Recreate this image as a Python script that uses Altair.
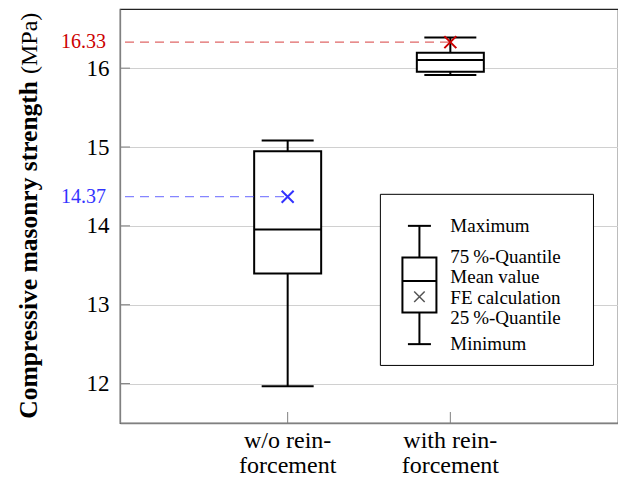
import altair as alt
import pandas as pd

# ---------------- data ----------------
categories = ["w/o rein-\nforcement", "with rein-\nforcement"]
maximum = [15.083, 16.389]
quartile_75 = [14.945, 16.195]
median = [13.953, 16.102]
quartile_25 = [13.397, 15.953]
minimum = [11.966, 15.912]
fe_calculation = [14.37, 16.33]

y_ticks = [12, 13, 14, 15, 16]

legend_labels = ["Maximum", "75\u2009%-Quantile", "Mean value",
                 "FE calculation", "25\u2009%-Quantile", "Minimum"]
legend_label_y = [14.0, 13.6, 13.35, 13.08, 12.83, 12.5]
legend_sample = {"maximum": 14.0, "q3": 13.6, "median": 13.3,
                 "q1": 12.9, "minimum": 12.5, "fe": 13.1}

y_title_bold = "Compressive masonry strength"
y_title_unit = "(MPa)"

# ---------------- layout / style ----------------
W, H = 498, 414
X_DOMAIN = [0, 3]
Y_DOMAIN = [11.5, 16.75]
LEGEND_POS = 1.81
LEGEND_TEXT_POS = 2.0
LEGEND_FRAME = {"x": 1.57, "x2": 2.88, "y": 12.23, "y2": 14.40}

SERIF = "Liberation Serif"
FRAME = "#222222"
AXIS_GREY = "#808080"
GRID_GREY = "#d0d0d0"
BLUE = "#3333ff"
RED = "#cc0000"
XPATH = "M-1,-1L1,1M1,-1L-1,1"

xscale = alt.Scale(domain=X_DOMAIN, nice=False, zero=False)
yscale = alt.Scale(domain=Y_DOMAIN, nice=False, zero=False)

x_axis = alt.Axis(values=[1, 2], labels=False, ticks=False, grid=False,
                  domainColor=AXIS_GREY, domainWidth=1.3, title=None)
y_axis = alt.Axis(values=y_ticks, labelFont=SERIF, labelFontSize=23, labelColor="black",
                  labelPadding=11, ticks=False, grid=True, gridColor=GRID_GREY,
                  gridWidth=1, domainColor=AXIS_GREY, domainWidth=1.3, title=None)


def X(field="pos"):
    return alt.X(f"{field}:Q", scale=xscale, axis=x_axis)


def Y(field):
    return alt.Y(f"{field}:Q", scale=yscale, axis=y_axis)


df = pd.DataFrame({
    "category": categories,
    "pos": [i + 1 for i in range(len(categories))],
    "maximum": maximum,
    "q3": quartile_75,
    "median": median,
    "q1": quartile_25,
    "minimum": minimum,
    "fe": fe_calculation,
})
df["axis_start"] = X_DOMAIN[0]

color_enc = alt.Color("category:N", scale=alt.Scale(domain=categories, range=[BLUE, RED]),
                      legend=None)

base = alt.Chart(df)

y_inner_ticks = alt.Chart(pd.DataFrame({"tick": y_ticks})).mark_rule(
    color=AXIS_GREY, strokeWidth=1).encode(
    y=Y("tick"), x=alt.value(0), x2=alt.value(10))

x_inner_ticks = base.mark_rule(color=AXIS_GREY, strokeWidth=1).encode(
    x=X(), y=alt.value(H), y2=alt.value(H - 11))

x_labels = base.mark_text(baseline="top", align="center", font=SERIF, fontSize=24,
                          lineBreak="\n", lineHeight=25, color="black").encode(
    x=X(), y=alt.value(H + 6), text="category:N")

whisk_hi = base.mark_rule(color="black", strokeWidth=2).encode(
    x=X(), y=Y("q3"), y2=alt.Y2("maximum"))
whisk_lo = base.mark_rule(color="black", strokeWidth=2).encode(
    x=X(), y=Y("minimum"), y2=alt.Y2("q1"))

boxes = base.mark_bar(fill="white", stroke="black", strokeWidth=2, size=67,
                      orient="vertical").encode(
    x=X(), y=Y("q1"), y2=alt.Y2("q3"))

medians = base.mark_tick(color="black", thickness=2, size=67, orient="horizontal",
                         opacity=1).encode(x=X(), y=Y("median"))
cap_hi = base.mark_tick(color="black", thickness=2, size=52, orient="horizontal",
                        opacity=1).encode(x=X(), y=Y("maximum"))
cap_lo = base.mark_tick(color="black", thickness=2, size=52, orient="horizontal",
                        opacity=1).encode(x=X(), y=Y("minimum"))

dashes = base.mark_rule(strokeDash=[9, 6], strokeWidth=1.3, opacity=0.6).encode(
    x=X("axis_start"), x2=alt.X2("pos"), y=Y("fe"), color=color_enc)

markers = base.mark_point(shape=XPATH, filled=False, size=144, strokeWidth=2,
                          opacity=1).encode(x=X(), y=Y("fe"), color=color_enc)

fe_labels = base.mark_text(align="right", baseline="middle", font=SERIF, fontSize=20,
                           dx=-19).encode(
    x=X("axis_start"), y=Y("fe"), text=alt.Text("fe:Q", format=".2f"), color=color_enc)

# ---------------- legend ----------------
frame_df = pd.DataFrame([LEGEND_FRAME])
legend_frame = alt.Chart(frame_df).mark_rect(fill="white", stroke="black",
                                             strokeWidth=1).encode(
    x=X("x"), x2=alt.X2("x2"), y=Y("y"), y2=alt.Y2("y2"))

ls = pd.DataFrame([dict(legend_sample, pos=LEGEND_POS)])
lbase = alt.Chart(ls)
l_wh = lbase.mark_rule(color="black", strokeWidth=2).encode(
    x=X(), y=Y("q3"), y2=alt.Y2("maximum"))
l_wl = lbase.mark_rule(color="black", strokeWidth=2).encode(
    x=X(), y=Y("minimum"), y2=alt.Y2("q1"))
l_box = lbase.mark_bar(fill="white", stroke="black", strokeWidth=2, size=34,
                       orient="vertical").encode(x=X(), y=Y("q1"), y2=alt.Y2("q3"))
l_med = lbase.mark_tick(color="black", thickness=2, size=34, orient="horizontal",
                        opacity=1).encode(x=X(), y=Y("median"))
l_ch = lbase.mark_tick(color="black", thickness=2, size=23, orient="horizontal",
                       opacity=1).encode(x=X(), y=Y("maximum"))
l_cl = lbase.mark_tick(color="black", thickness=2, size=23, orient="horizontal",
                       opacity=1).encode(x=X(), y=Y("minimum"))
l_x = lbase.mark_point(shape=XPATH, filled=False, size=110, strokeWidth=1.5,
                       color="#555555", opacity=1).encode(x=X(), y=Y("fe"))

lt = pd.DataFrame({"label": legend_labels, "ly": legend_label_y,
                   "lx": [LEGEND_TEXT_POS] * len(legend_labels)})
l_text = alt.Chart(lt).mark_text(align="left", baseline="middle", font=SERIF,
                                 fontSize=19, color="black").encode(
    x=X("lx"), y=Y("ly"), text="label:N")

# ---------------- y title (bold + regular) ----------------
t_bold = alt.Chart(pd.DataFrame({"t": [y_title_bold]})).mark_text(
    angle=270, align="right", baseline="alphabetic", font=SERIF, fontSize=25.5,
    fontWeight="bold", color="black").encode(
    x=alt.value(-83), y=alt.value(72), text="t:N")
t_unit = alt.Chart(pd.DataFrame({"t": [y_title_unit]})).mark_text(
    angle=270, align="left", baseline="alphabetic", font=SERIF, fontSize=24,
    color="black").encode(
    x=alt.value(-83), y=alt.value(65), text="t:N")

chart = alt.layer(
    y_inner_ticks, x_inner_ticks, x_labels, whisk_hi, whisk_lo, boxes, medians,
    cap_hi, cap_lo, dashes, markers, fe_labels,
    legend_frame, l_wh, l_wl, l_box, l_med, l_ch, l_cl, l_x, l_text,
    t_bold, t_unit,
).properties(
    width=W, height=H,
    autosize=alt.AutoSizeParams(type="none"),
    padding={"left": 112, "top": 1, "right": 0, "bottom": 55},
).configure_view(stroke=FRAME, strokeWidth=1.2)

chart.save("out.html", embed_options={"renderer": "svg", "actions": False})
